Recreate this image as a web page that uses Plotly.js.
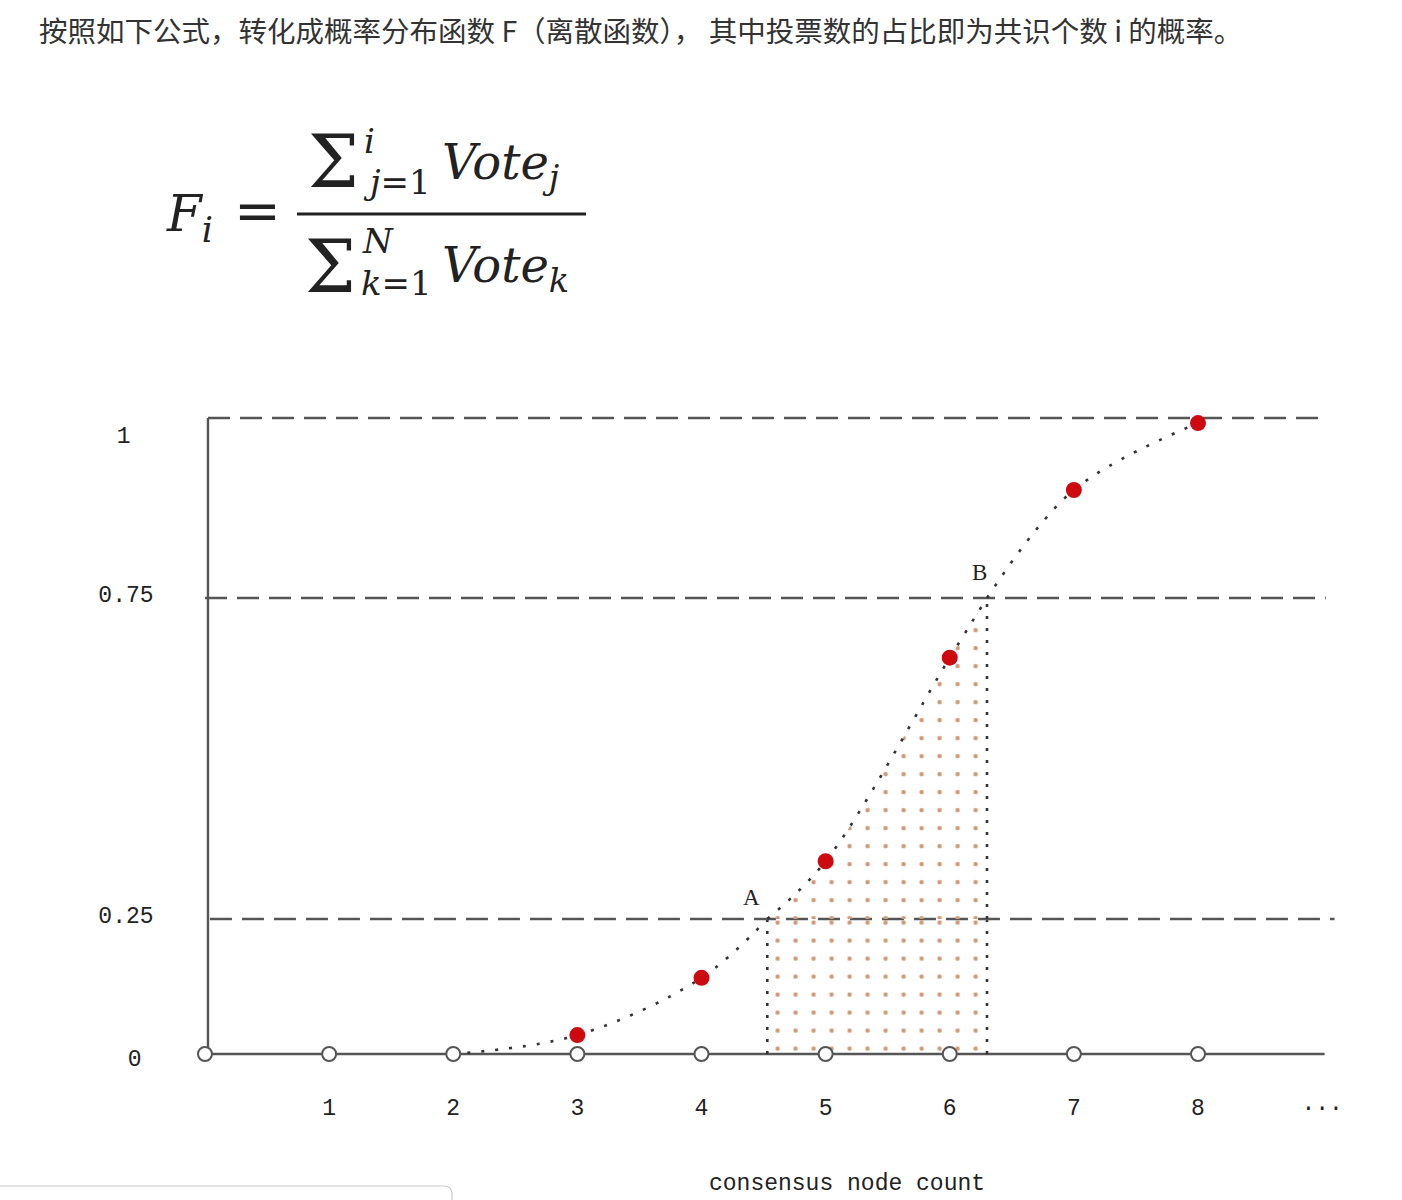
<!DOCTYPE html>
<html><head><meta charset="utf-8">
<script src="https://cdn.plot.ly/plotly-3.0.1.min.js"></script>
<style>html,body{margin:0;padding:0;background:#fff;} #chart{width:1402px;height:1200px;}</style>
</head><body><div id="chart"></div>
<script>
// ---------- data ----------
const nodeCounts = [0, 1, 2, 3, 4, 5, 6, 7, 8];
const xTickVals = [1, 2, 3, 4, 5, 6, 7, 8, 9];
const xTickText = ['1', '2', '3', '4', '5', '6', '7', '8', '···'];
const voteNodes = [3, 4, 5, 6, 7, 8];
const voteProb = [0.035, 0.141, 0.34, 0.657, 0.90, 0.993];
const curveX = [2, 3, 4, 4.53, 5, 6, 6.30, 7, 8];
const curveY = [0, 0.035, 0.141, 0.25, 0.34, 0.657, 0.75, 0.90, 0.993];
const pointA = [4.53, 0.25];
const pointB = [6.30, 0.75];
const yTickVals = [0, 0.25, 0.75, 1];
const yTickText = ['0', '0.25', '0.75', '1'];
const xTitle = 'consensus node count';
const heading = '按照如下公式，转化成概率分布函数 F（离散函数）， 其中投票数的占比即为共识个数 i 的概率。';

// ---------- geometry helpers ----------
const W = 1402, H = 1200;
const px = v => v / W;
const py = v => 1 - v / H;
const X0PX = 205, XUNIT = 124.125;
const xRange = [-0.1, 9.2];
const xDomain = [px(X0PX + xRange[0] * XUNIT), px(X0PX + xRange[1] * XUNIT)];
function band(v0, p0, v1, p1, range) {
  const k = (p0 - p1) / (v1 - v0);
  const pLo = p0 + (v0 - range[0]) * k;
  const pHi = p0 - (range[1] - v0) * k;
  return [py(pLo), py(pHi)];
}
const rLow = [-0.03, 0.26], rMid = [0.23, 0.77], rTop = [0.73, 1.03];
const dLow = band(0, 1054, 0.25, 919, rLow);
const dMid = band(0.25, 919, 0.75, 598, rMid);
const dTop = band(0.75, 598, 1, 418, rTop);

const DARK = '#555555';
const MONO = 'Liberation Mono, DejaVu Sans Mono, monospace';
const SERIF = 'Liberation Serif, DejaVu Serif, serif';
const MATH = 'DejaVu Serif, Liberation Serif, serif';

function ticksIn(lo, hi) {
  const v = [], t = [];
  yTickVals.forEach((y, i) => { if (y >= lo && y <= hi) { v.push(y); t.push(yTickText[i]); } });
  return { v, t };
}
const tLow = ticksIn(0, 0.2), tMid = ticksIn(0.25, 0.75), tTop = ticksIn(0.9, 1);

// ---------- traces ----------
const pattern = { shape: '.', fgcolor: '#cf9a7a', bgcolor: 'rgba(0,0,0,0)', size: 18, solidity: 0.05, fillmode: 'replace' };
const traces = [];
traces.push({ x: [pointA[0], pointB[0]], y: [pointA[1], pointA[1]], xaxis: 'x', yaxis: 'y', mode: 'none',
  fill: 'tozeroy', fillcolor: 'rgba(0,0,0,0)', fillpattern: pattern, hoverinfo: 'skip' });
traces.push({ x: [pointA[0], pointB[0]], y: [pointA[1], pointA[1]], xaxis: 'x', yaxis: 'y2', mode: 'lines',
  line: { width: 0 }, hoverinfo: 'skip' });
const iA = curveX.indexOf(pointA[0]), iB = curveX.indexOf(pointB[0]);
traces.push({ x: curveX.slice(iA, iB + 1), y: curveY.slice(iA, iB + 1), xaxis: 'x', yaxis: 'y2', mode: 'lines',
  line: { width: 0, shape: 'spline' }, fill: 'tonexty', fillcolor: 'rgba(0,0,0,0)', fillpattern: pattern, hoverinfo: 'skip' });

const curveLine = { color: '#333333', width: 2.6, dash: '3px,11px', shape: 'spline' };
[['y', 0, iA], ['y2', iA, iB], ['y3', iB, curveX.length - 1]].forEach(([ax, a, b]) => {
  traces.push({ x: curveX.slice(a, b + 1), y: curveY.slice(a, b + 1), xaxis: 'x', yaxis: ax, mode: 'lines',
    line: curveLine, hoverinfo: 'skip' });
});

traces.push({ x: nodeCounts, y: nodeCounts.map(() => 0), xaxis: 'x', yaxis: 'y', mode: 'markers', cliponaxis: false,
  marker: { symbol: 'circle', size: 14, color: '#ffffff', line: { color: DARK, width: 2 } } });

[['y', -1, 0.25], ['y2', 0.25, 0.75], ['y3', 0.75, 2]].forEach(([ax, lo, hi]) => {
  const xs = [], ys = [];
  voteNodes.forEach((n, i) => { if (voteProb[i] >= lo && voteProb[i] < hi) { xs.push(n); ys.push(voteProb[i]); } });
  traces.push({ x: xs, y: ys, xaxis: 'x', yaxis: ax, mode: 'markers', cliponaxis: false,
    marker: { symbol: 'circle', size: 16, color: '#cc0a10', line: { width: 0 } } });
});

// ---------- shapes ----------
const shapes = [];
const seg = (x0, x1, y0, y1, yref, line) => shapes.push({ type: 'line', xref: 'x', yref, x0, x1, y0, y1, layer: 'below', line });
const solid = { color: DARK, width: 2.4 };
const dashed = { color: DARK, width: 2.6, dash: '22px,10px' };
const dotted = { color: '#333333', width: 2.6, dash: '3px,9px' };
seg(0, 9.02, 0, 0, 'y', solid);
seg(0.024, 0.024, 0, 0.25, 'y', solid);
seg(0.024, 0.024, 0.25, 0.75, 'y2', solid);
seg(0.024, 0.024, 0.75, 1, 'y3', solid);
seg(0.024, 9.02, 1, 1, 'y3', dashed);
seg(0.0, 9.03, 0.75, 0.75, 'y2', dashed);
seg(0.04, 9.1, 0.25, 0.25, 'y2', dashed);
seg(pointA[0], pointA[0], 0, pointA[1], 'y', dotted);
seg(pointB[0], pointB[0], 0, 0.25, 'y', dotted);
seg(pointB[0], pointB[0], 0.25, pointB[1], 'y2', dotted);
// fraction bar of the formula
shapes.push({ type: 'line', xref: 'paper', yref: 'paper', x0: px(297), x1: px(586), y0: py(214), y1: py(214),
  line: { color: '#222', width: 3 } });
// partially visible input box at the bottom-left
shapes.push({ type: 'path', xref: 'paper', yref: 'paper',
  path: `M ${px(-5)} ${py(1186)} L ${px(444)} ${py(1186)} Q ${px(452)} ${py(1186)} ${px(452)} ${py(1194)} L ${px(452)} ${py(1215)} L ${px(-5)} ${py(1215)} Z`,
  line: { color: '#c8c8c8', width: 1.2 }, fillcolor: '#ffffff' });

// ---------- annotations ----------
const ann = [];
const A = (x, y, text, size, extra) => ann.push(Object.assign({ xref: 'paper', yref: 'paper', x: px(x), y: py(y), text,
  showarrow: false, xanchor: 'left', yanchor: 'middle', font: { family: MATH, size, color: '#222' } }, extra || {}));
ann.push({ xref: 'paper', yref: 'paper', x: px(37), y: py(29), text: heading, showarrow: false, xanchor: 'left', yanchor: 'middle',
  font: { family: 'Noto Sans CJK SC, sans-serif', size: 28.5, color: '#333' } });
// formula  F_i = sum_{j=1}^{i} Vote_j / sum_{k=1}^{N} Vote_k
A(164, 217, '<i>F<sub>i</sub></i>', 50);
A(232, 211, '=', 56);
A(306, 162, 'Σ', 72);
A(362, 141, '<i>i</i>', 34);
A(361, 182, '<i>j</i>=1', 34);
A(440, 166, '<i>Vote<sub>j</sub></i>', 48);
A(303, 267, 'Σ', 72);
A(360, 241, '<i>N</i>', 34);
A(359, 283, '<i>k</i>=1', 34);
A(440, 268, '<i>Vote<sub>k</sub></i>', 48);
// point labels
ann.push({ xref: 'x', yref: 'y2', x: 4.40, y: 0.283, text: 'A', showarrow: false, xanchor: 'center', yanchor: 'middle',
  font: { family: SERIF, size: 23, color: '#222' } });
ann.push({ xref: 'x', yref: 'y3', x: 6.24, y: 0.785, text: 'B', showarrow: false, xanchor: 'center', yanchor: 'middle',
  font: { family: SERIF, size: 23, color: '#222' } });
// x axis label
ann.push({ xref: 'paper', yref: 'paper', x: px(847), y: py(1184), text: xTitle, showarrow: false, xanchor: 'center', yanchor: 'middle',
  font: { family: MONO, size: 23, color: '#222' } });

// ---------- layout ----------
const tickFont = { family: MONO, size: 23, color: '#222' };
const yBase = { anchor: 'x', showgrid: false, zeroline: false, showline: false, ticks: '', tickfont: tickFont, fixedrange: true };
const layout = {
  width: W, height: H, margin: { l: 0, r: 0, t: 0, b: 0 }, paper_bgcolor: '#fff', plot_bgcolor: 'rgba(0,0,0,0)',
  showlegend: false, hovermode: false,
  xaxis: { domain: xDomain, range: xRange, anchor: 'y', showgrid: false, zeroline: false, showline: false, ticks: '',
    tickmode: 'array', tickvals: xTickVals, ticktext: xTickText, tickfont: tickFont, ticklabelstandoff: 21, fixedrange: true },
  yaxis: Object.assign({}, yBase, { domain: dLow, range: rLow, tickmode: 'array', tickvals: tLow.v, ticktext: tLow.t,
    ticklabelstandoff: 50, ticklabelshift: 4 }),
  yaxis2: Object.assign({}, yBase, { domain: dMid, range: rMid, tickmode: 'array', tickvals: tMid.v, ticktext: tMid.t,
    ticklabelstandoff: 38, ticklabelshift: -4 }),
  yaxis3: Object.assign({}, yBase, { domain: dTop, range: rTop, tickmode: 'array', tickvals: tTop.v, ticktext: tTop.t,
    ticklabelstandoff: 61, ticklabelshift: 17 }),
  shapes, annotations: ann
};
Plotly.newPlot('chart', traces, layout, { displayModeBar: false, staticPlot: true });
</script></body></html>
